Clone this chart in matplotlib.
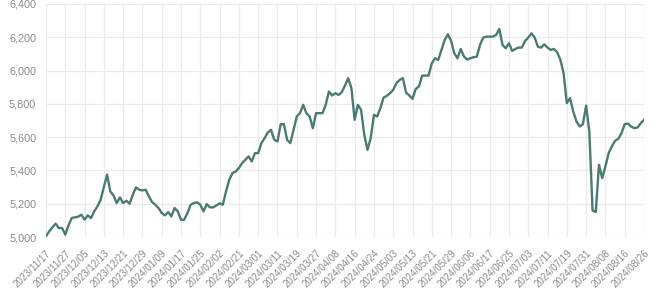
import numpy as np
import matplotlib.pyplot as plt
from matplotlib.ticker import FuncFormatter

# daily closes, one per trading day
values = [
    5004, 5034, 5058, 5080, 5054, 5054, 5014, 5070, 5114, 5118,
    5122, 5134, 5104, 5130, 5114, 5154, 5184, 5224, 5300, 5375,
    5274, 5250, 5204, 5238, 5204, 5218, 5200, 5254, 5298, 5284,
    5280, 5284, 5244, 5210, 5194, 5174, 5144, 5130, 5150, 5124,
    5174, 5154, 5104, 5104, 5144, 5194, 5204, 5208, 5194, 5154,
    5198, 5178, 5178, 5190, 5202, 5194, 5274, 5344, 5384, 5394,
    5414, 5444, 5464, 5484, 5454, 5504, 5504, 5564, 5594, 5628,
    5644, 5584, 5574, 5678, 5678, 5584, 5564, 5644, 5724, 5744,
    5794, 5744, 5724, 5654, 5744, 5744, 5744, 5794, 5874, 5850,
    5864, 5854, 5870, 5910, 5954, 5894, 5704, 5794, 5764, 5614,
    5524, 5594, 5734, 5724, 5774, 5838, 5848, 5864, 5884, 5924,
    5944, 5954, 5868, 5850, 5830, 5890, 5904, 5970, 5970, 5970,
    6044, 6074, 6064, 6124, 6184, 6218, 6178, 6104, 6074, 6130,
    6084, 6066, 6074, 6080, 6084, 6154, 6198, 6204, 6204, 6204,
    6214, 6250, 6154, 6134, 6164, 6118, 6130, 6138, 6138, 6178,
    6198, 6224, 6198, 6144, 6138, 6158, 6138, 6124, 6130, 6110,
    6064, 5984, 5804, 5834, 5754, 5694, 5664, 5678, 5790, 5634,
    5160, 5150, 5434, 5354, 5424, 5504, 5544, 5578, 5590, 5624,
    5678, 5682, 5664, 5654, 5658, 5684, 5704,
]

tick_labels = [
    "2023/11/17", "2023/11/27", "2023/12/05", "2023/12/13", "2023/12/21",
    "2023/12/29", "2024/01/09", "2024/01/17", "2024/01/25", "2024/02/02",
    "2024/02/21", "2024/03/01", "2024/03/11", "2024/03/19", "2024/03/27",
    "2024/04/08", "2024/04/16", "2024/04/24", "2024/05/03", "2024/05/13",
    "2024/05/21", "2024/05/29", "2024/06/06", "2024/06/17", "2024/06/25",
    "2024/07/03", "2024/07/11", "2024/07/19", "2024/07/31", "2024/08/08",
    "2024/08/16", "2024/08/26",
]

y_ticks = [5000, 5200, 5400, 5600, 5800, 6000, 6200, 6400]

plt.rcParams["font.family"] = ["Liberation Sans", "DejaVu Sans"]

fig = plt.figure(figsize=(6.56, 3.03), dpi=100)
ax = fig.add_axes([0.0701, 0.2178, 0.9116, 0.769])

x = np.arange(len(values))
ax.plot(x, values, color="#4b7a71", lw=1.7, solid_joinstyle="round")

tick_pos = np.arange(0, len(values), 6)
ax.set_xticks(tick_pos)
ax.set_xticklabels(tick_labels, rotation=45, ha="right", rotation_mode="anchor",
                   fontsize=7, color="#8a8a8a")
ax.set_yticks(y_ticks)
ax.yaxis.set_major_formatter(FuncFormatter(lambda v, p: f"{int(v):,}"))
ax.tick_params(axis="y", labelsize=7.8, labelcolor="#8a8a8a", length=0, pad=7)
ax.tick_params(axis="x", length=0, pad=8)

ax.set_xlim(0, len(values) - 1)
ax.set_ylim(5000, 6400)
ax.grid(True, color="#ebebeb", lw=0.9)
ax.set_axisbelow(True)
for s in ax.spines.values():
    s.set_visible(False)

fig.savefig("out.png", dpi=100)
